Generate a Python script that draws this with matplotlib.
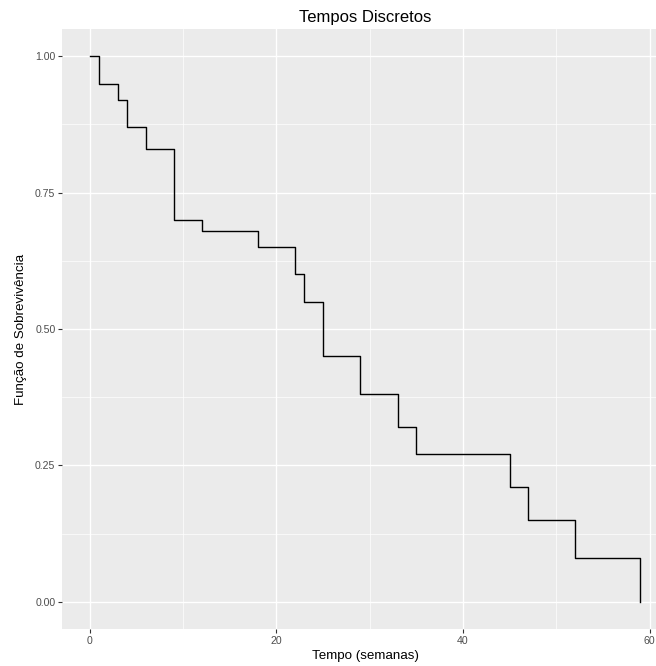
import numpy as np
import matplotlib.pyplot as plt

# Kaplan-Meier style step data
tempo = [0, 1, 3, 4, 6, 9, 12, 18, 22, 23, 25, 29, 33, 35, 45, 47, 52, 59]
sobrevivencia = [1.00, 0.95, 0.92, 0.87, 0.83, 0.70, 0.68, 0.65, 0.60, 0.55,
                 0.45, 0.38, 0.32, 0.27, 0.21, 0.15, 0.08, 0.00]

x_ticks = [0, 20, 40, 60]
y_ticks = [0.00, 0.25, 0.50, 0.75, 1.00]
y_tick_labels = ['0.00', '0.25', '0.50', '0.75', '1.00']

plt.rcParams['font.family'] = ['Liberation Sans', 'DejaVu Sans']

fig = plt.figure(figsize=(6.56, 6.66), dpi=100)
# panel runs past the right edge, as in the (cropped) original
ax = fig.add_axes([62 / 656, 1 - 629 / 666, (668 - 62) / 656, (629 - 29) / 666])
ax.set_facecolor('#EBEBEB')
for s in ax.spines.values():
    s.set_visible(False)

ax.step(tempo, sobrevivencia, where='post', color='black', lw=1.0, zorder=3)

xr = max(tempo) - min(tempo)
ax.set_xlim(min(tempo) - 0.05 * xr, max(tempo) + 0.05 * xr)
ax.set_ylim(-0.05, 1.05)

ax.set_xticks(x_ticks)
ax.set_xticks([10, 30, 50], minor=True)
ax.set_yticks(y_ticks)
ax.set_yticklabels(y_tick_labels)
ax.set_yticks([0.125, 0.375, 0.625, 0.875], minor=True)

ax.grid(True, which='major', color='white', lw=1.0, zorder=1)
ax.grid(True, which='minor', color='white', lw=0.5, zorder=1)
ax.set_axisbelow(True)

ax.tick_params(which='major', length=2.7, width=0.8, color='#333333',
               labelcolor='#4D4D4D', labelsize=7.6, pad=2)
ax.tick_params(which='minor', length=0)

ax.set_xlabel('Tempo (semanas)', fontsize=9.6, color='black', labelpad=3)
ax.set_ylabel('Função de Sobrevivência', fontsize=9.6, color='black', labelpad=6)
ax.set_title('Tempos Discretos', fontsize=12, color='black', pad=5)

fig.savefig('out.png', dpi=100)
